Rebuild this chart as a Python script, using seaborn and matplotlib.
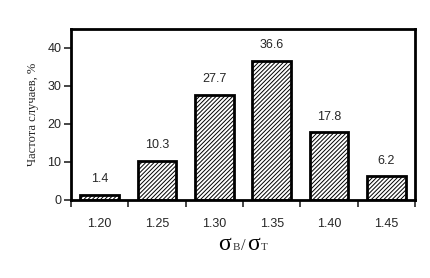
import matplotlib
matplotlib.use("Agg")
import matplotlib.pyplot as plt
import seaborn as sns
import pandas as pd
from matplotlib.offsetbox import TextArea, HPacker, AnchoredOffsetbox

categories = ["1.20", "1.25", "1.30", "1.35", "1.40", "1.45"]
values = [1.4, 10.3, 27.7, 36.6, 17.8, 6.2]
value_labels = ["1.4", "10.3", "27.7", "36.6", "17.8", "6.2"]
y_ticks = [0, 10, 20, 30, 40]

sns.set_theme(style="white")
plt.rcParams['font.family'] = ['Liberation Sans', 'DejaVu Sans']
plt.rcParams['hatch.linewidth'] = 0.7

df = pd.DataFrame({"cat": categories, "val": values})

fig = plt.figure(figsize=(4.30, 2.78), dpi=100)
ax = fig.add_axes([71/430, 1-200/278, (415-71)/430, (200-29)/278])

sns.barplot(data=df, x="cat", y="val", ax=ax, color="white", edgecolor="black",
            linewidth=2, width=0.67, saturation=1)
for p in ax.patches:
    p.set_hatch("////////")
    p.set_facecolor("white")
    p.set_edgecolor("black")

ax.set_xlim(-0.5, 5.5)
ax.set_ylim(0, 45)
ax.set_yticks(y_ticks)
ax.set_yticklabels([str(t) for t in y_ticks], fontsize=9)

# boundary ticks (major), labels at centers (minor)
ax.set_xticks([i - 0.5 for i in range(len(categories) + 1)])
ax.set_xticklabels([])
ax.set_xticks(range(len(categories)), minor=True)
ax.set_xticklabels(categories, minor=True, fontsize=9)
ax.tick_params(axis="x", which="major", direction="out", length=5, width=1.2, bottom=True)
ax.tick_params(axis="x", which="minor", length=0, pad=13)
ax.tick_params(axis="y", direction="out", length=5, width=1.2, left=True, pad=2)

for s in ax.spines.values():
    s.set_visible(True)
    s.set_color("black")
    s.set_linewidth(2)

ax.bar_label(ax.containers[0], labels=value_labels, padding=7, fontsize=9)

ax.set_xlabel("")
ax.set_ylabel("Частота случаев, %", fontsize=9, labelpad=6,
              family=['Liberation Serif', 'DejaVu Serif'])

# x-axis label σв/σт with small letters
big = dict(size=17, family=['Liberation Serif', 'DejaVu Serif'], color='black')
small = dict(size=8, family=['Liberation Serif', 'DejaVu Serif'], color='#333333')
parts = [TextArea("σ", textprops=big), TextArea("В", textprops=small),
         TextArea("/", textprops=dict(size=12, family=['Liberation Serif'], color='#333333')),
         TextArea("σ", textprops=big), TextArea("Т", textprops=small)]
box = HPacker(children=parts, align="baseline", pad=0, sep=1)
anch = AnchoredOffsetbox(loc="center", child=box, frameon=False,
                         bbox_to_anchor=(243/430, 1-245/278),
                         bbox_transform=fig.transFigure, pad=0, borderpad=0)
fig.add_artist(anch)

fig.savefig("out.png", dpi=100)
